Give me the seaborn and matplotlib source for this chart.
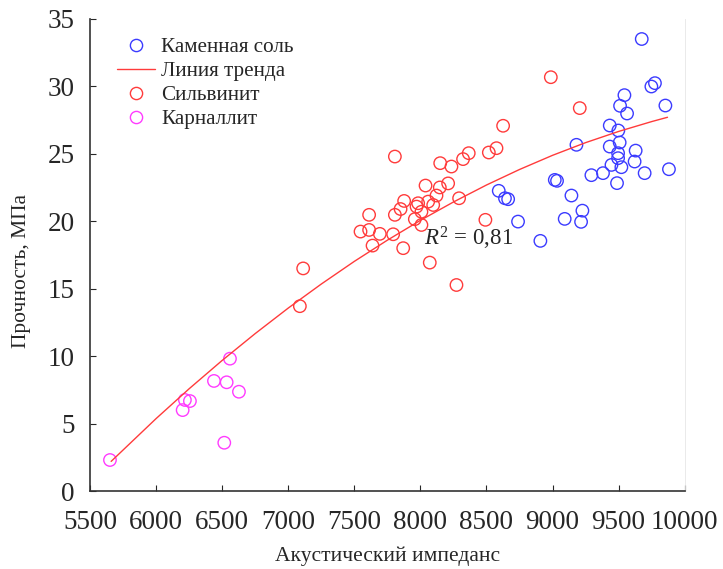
import numpy as np
import pandas as pd
import matplotlib
matplotlib.use("Agg")
import matplotlib.pyplot as plt
import seaborn as sns
from matplotlib.lines import Line2D


# Data
salt_x = [8593, 8640, 8664, 8739, 8908, 9675, 9748, 9775, 9544, 9511,
          9564, 9854, 9433, 9498, 9181, 9433, 9508, 9496, 9496, 9629,
          9621, 9446, 9521, 9697, 9881, 9382, 9294, 9488, 9017, 9034,
          9143, 9226, 9092, 9216]
salt_y = [22.25, 21.7, 21.63, 19.97, 18.54, 33.5, 29.98, 30.23, 29.34, 28.55,
          27.98, 28.57, 27.09, 26.72, 25.66, 25.53, 25.83, 25.04, 24.67, 25.23,
          24.42, 24.17, 24.0, 23.56, 23.85, 23.56, 23.41, 22.82, 23.06, 22.99,
          21.9, 20.78, 20.17, 19.95]

sylv_x = [7113, 7088, 7807, 8150, 8039, 8147, 8210, 8122, 8097, 7877,
          7850, 7807, 7983, 7971, 8008, 7958, 8008, 8059, 7612, 7547,
          7612, 7693, 7794, 7638, 7870, 8071, 8626, 8576, 8518, 8366,
          8323, 8235, 8293, 8492, 8273, 8987, 9206]
sylv_y = [16.5, 13.7, 24.79, 24.3, 22.64, 22.5, 22.8, 21.9, 21.2, 21.5,
          20.9, 20.47, 21.33, 21.08, 20.7, 20.15, 19.72, 21.45, 20.47, 19.23,
          19.35, 19.06, 19.03, 18.19, 18.0, 16.93, 27.07, 25.41, 25.09, 25.04,
          24.6, 24.05, 21.7, 20.1, 15.27, 30.67, 28.38]

carn_x = [5651, 6218, 6256, 6201, 6438, 6534, 6559, 6627, 6516]
carn_y = [2.3, 6.75, 6.67, 6.0, 8.16, 8.06, 9.81, 7.36, 3.58]

# trend line
trend_x = [5660, 6000, 6250, 6500, 6750, 7000, 7250, 7500, 7750,
           8000, 8250, 8500, 8750, 9000, 9250, 9500, 9750, 9870]
trend_y = [2.2, 5.37, 7.58, 9.68, 11.67, 13.56, 15.34, 17.02, 18.59,
           20.06, 21.42, 22.68, 23.83, 24.88, 25.82, 26.65, 27.38, 27.7]

x_ticks = [5500, 6000, 6500, 7000, 7500, 8000, 8500, 9000, 9500, 10000]
y_ticks = [0, 5, 10, 15, 20, 25, 30, 35]

blue = "#3b3bff"
red = "#ff3b3b"
magenta = "#ff3bff"

sns.set_style("ticks")
plt.rcParams["font.family"] = ["Liberation Serif", "DejaVu Serif"]
plt.rcParams["mathtext.fontset"] = "custom"
plt.rcParams["mathtext.rm"] = "Liberation Serif"
plt.rcParams["mathtext.it"] = "Liberation Serif:italic"

fig = plt.figure(figsize=(7.23, 5.69), dpi=100)
ax = fig.add_axes([0.1245, 0.137, 0.8225, 0.83])

# Trend line
sns.lineplot(x=trend_x, y=trend_y, ax=ax, color=red, lw=1.0, sort=False)

for xs, ys, c in [(salt_x, salt_y, blue), (sylv_x, sylv_y, red), (carn_x, carn_y, magenta)]:
    sns.scatterplot(x=xs, y=ys, ax=ax, s=80, facecolors="none",
                    edgecolor=c, linewidth=1.0, marker="o")

ax.text(8030, 18.7, "$R^2$ = 0,81", fontsize=16.5, ha="left", va="center")

ax.set_xlim(5500, 10000)
ax.set_ylim(0, 35)
ax.set_xticks(x_ticks)
ax.set_yticks(y_ticks)
ax.tick_params(direction="in", length=4, width=0.8, labelsize=19.5)
ax.tick_params(axis="x", pad=14)
ax.tick_params(axis="y", pad=11)
ax.set_xlabel("Акустический импеданс", fontsize=15.5, labelpad=8)
ax.set_ylabel("Прочность, МПа", fontsize=15.5, labelpad=12)
ax.yaxis.label.set_y(0.466)

for side in ["left", "bottom"]:
    ax.spines[side].set_linewidth(1.2)
    ax.spines[side].set_color("#333333")
ax.spines["top"].set_visible(False)
ax.spines["right"].set_color("#e6e6e6")
ax.spines["right"].set_linewidth(0.6)

handles = [
    Line2D([], [], ls="none", marker="o", mfc="none", mec=blue, ms=8.8, mew=1.0),
    Line2D([], [], color=red, lw=1.0),
    Line2D([], [], ls="none", marker="o", mfc="none", mec=red, ms=8.8, mew=1.0),
    Line2D([], [], ls="none", marker="o", mfc="none", mec=magenta, ms=8.8, mew=1.0),
]
labels = ["Каменная соль", "Линия тренда", "Сильвинит", "Карналлит"]
ax.legend(handles, labels, loc="upper left", bbox_to_anchor=(0.031, 0.979),
          frameon=False, fontsize=15.2, handlelength=1.8, handletextpad=0.3,
          labelspacing=0.2, borderaxespad=0.0)

fig.savefig("out.png", dpi=100)
